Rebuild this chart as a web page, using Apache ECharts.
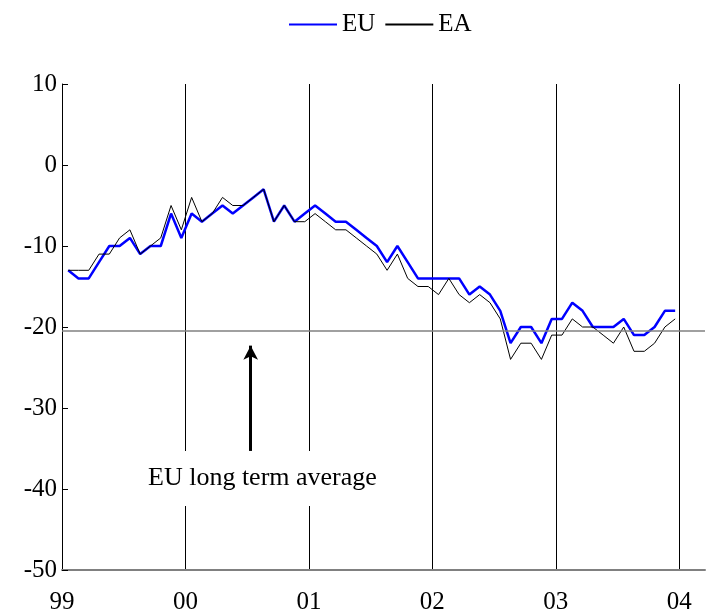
<!DOCTYPE html>
<html>
<head>
<meta charset="utf-8">
<script src="https://cdn.jsdelivr.net/npm/echarts@6/dist/echarts.min.js"></script>
<style>
  html, body { margin: 0; padding: 0; background: #fff; }
  #main { width: 708px; height: 613px; }
</style>
</head>
<body>
<div id="main"></div>
<script>
  // monthly, Jan 1999 .. Dec 2003
  const yearLabels = ['99', '00', '01', '02', '03', '04']
  const euValues = [
    -13, -14, -14, -12, -10, -10, -9, -11, -10, -10, -6, -9,
    -6, -7, -6, -5, -6, -5, -4, -3, -7, -5, -7, -6,
    -5, -6, -7, -7, -8, -9, -10, -12, -10, -12, -14, -14,
    -14, -14, -14, -16, -15, -16, -18, -22, -20, -20, -22, -19,
    -19, -17, -18, -20, -20, -20, -19, -21, -21, -20, -18, -18
  ]
  const eaValues = [
    -13, -13, -13, -11, -11, -9, -8, -11, -10, -9, -5, -8,
    -4, -7, -6, -4, -5, -5, -4, -3, -7, -5, -7, -7,
    -6, -7, -8, -8, -9, -10, -11, -13, -11, -14, -15, -15,
    -16, -14, -16, -17, -16, -17, -19, -24, -22, -22, -24, -21,
    -21, -19, -20, -20, -21, -22, -20, -23, -23, -22, -20, -19
  ]
  const euLongTermAverage = -20.5

  const font = 'Liberation Serif'
  const toPoints = (vals) => vals.map((v, i) => [i + 0.6, v])

  const chart = echarts.init(document.getElementById('main'))
  chart.setOption({
    animation: false,
    legend: {
      left: 283,
      top: 7,
      itemWidth: 48,
      itemHeight: 14,
      itemGap: 9,
      itemStyle: { opacity: 0 },
      textStyle: { fontFamily: font, fontSize: 25, color: '#000' },
      data: ['EU', 'EA']
    },
    grid: { left: 62, right: 3, top: 84, bottom: 43, outerBoundsMode: 'none' },
    xAxis: {
      type: 'value',
      min: 0,
      max: 62.5,
      interval: 12,
      axisLine: { show: true, onZero: false, lineStyle: { color: '#808080', width: 2 } },
      axisTick: { show: false },
      splitLine: { show: true, showMinLine: false, showMaxLine: false, lineStyle: { color: '#000', width: 1 } },
      axisLabel: {
        fontFamily: font, fontSize: 25, color: '#000', margin: 20,
        showMaxLabel: false,
        formatter: (v) => (v % 12 === 0 ? yearLabels[v / 12] : '')
      }
    },
    yAxis: {
      type: 'value',
      min: -50,
      max: 10,
      interval: 10,
      axisLine: { show: true, onZero: false, lineStyle: { color: '#000', width: 1 } },
      axisTick: { show: true, inside: true, length: 6, lineStyle: { color: '#000' } },
      splitLine: { show: false },
      axisLabel: { fontFamily: font, fontSize: 25, color: '#000', margin: 5 }
    },
    graphic: [{
      type: 'text',
      left: 148,
      top: 451,
      z: 100,
      style: {
        text: 'EU long term average',
        font: '26px "Liberation Serif"',
        fill: '#000',
        backgroundColor: '#fff',
        padding: [14, 0, 15, 0]
      }
    }],
    series: [
      {
        name: 'EU',
        type: 'line',
        symbol: 'none',
        color: '#0000ff',
        lineStyle: { color: '#0000ff', width: 2.5 },
        data: toPoints(euValues),
        markLine: {
          silent: true,
          animation: false,
          label: { show: false },
          data: [
            [
              { coord: [18.34, -35.3], symbol: 'none' },
              { coord: [18.34, -22.3], symbol: 'arrow', symbolSize: [11, 14] }
            ]
          ],
          lineStyle: { color: '#000', width: 3, type: 'solid' }
        }
      },
      {
        name: 'EA',
        type: 'line',
        symbol: 'none',
        color: '#000',
        lineStyle: { color: '#000', width: 1 },
        data: toPoints(eaValues),
        markLine: {
          silent: true,
          animation: false,
          symbol: 'none',
          label: { show: false },
          lineStyle: { color: '#808080', width: 1.5, type: 'solid' },
          data: [{ yAxis: euLongTermAverage }]
        }
      }
    ]
  })
</script>
</body>
</html>
